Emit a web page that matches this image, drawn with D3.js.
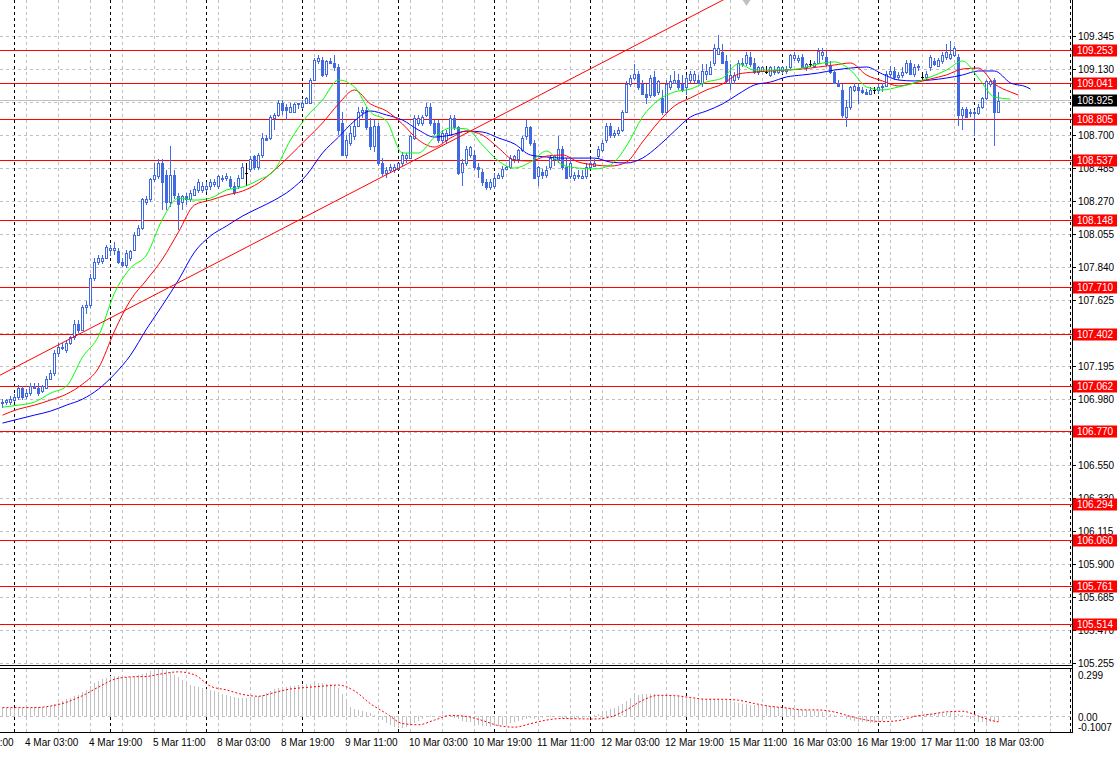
<!DOCTYPE html>
<html><head><meta charset="utf-8">
<script src="https://cdn.jsdelivr.net/npm/d3@7"></script>
<style>html,body{margin:0;padding:0;background:#fff;overflow:hidden}svg{display:block;font-family:"Liberation Sans",Arial,sans-serif}</style>
</head><body><svg id="c" width="1120" height="758"></svg>
<script>
// ---------- DATA (USDJPY H1, 3 Mar 21:00 .. 18 Mar 06:00) ----------
const opens=[
106.95,106.96,106.96,106.97,106.99,107.05,107.00,107.02,107.06,107.05,
107.03,107.05,107.11,107.15,107.28,107.32,107.30,107.34,107.38,107.47,
107.43,107.58,107.59,107.77,107.87,107.88,107.90,107.95,107.95,107.94,
107.87,107.85,107.90,107.95,108.05,108.09,108.26,108.28,108.41,108.43,
108.52,108.44,108.26,108.44,108.30,108.26,108.30,108.28,108.31,108.34,
108.34,108.35,108.37,108.38,108.37,108.42,108.42,108.41,108.37,108.37,
108.42,108.45,108.48,108.56,108.49,108.57,108.68,108.68,108.81,108.83,
108.91,108.88,108.85,108.85,108.90,108.88,108.91,108.91,109.06,109.18,
109.19,109.10,109.18,109.17,109.14,108.78,108.57,108.65,108.69,108.76,
108.85,108.86,108.75,108.63,108.76,108.52,108.45,108.47,108.47,108.48,
108.52,108.55,108.55,108.68,108.78,108.78,108.83,108.88,108.78,108.78,
108.67,108.67,108.70,108.81,108.75,108.46,108.52,108.57,108.57,108.49,
108.46,108.39,108.36,108.37,108.42,108.43,108.48,108.49,108.54,108.54,
108.60,108.69,108.75,108.65,108.43,108.46,108.44,108.49,108.54,108.54,
108.61,108.49,108.43,108.42,108.43,108.42,108.43,108.49,108.50,108.56,
108.60,108.67,108.76,108.70,108.71,108.73,108.85,109.03,109.07,109.10,
109.03,108.97,108.96,109.08,108.98,108.94,108.85,109.01,109.04,109.06,
109.03,109.01,109.06,109.06,109.06,109.04,109.10,109.10,109.17,109.23,
109.24,109.18,109.04,109.06,109.08,109.17,109.17,109.21,109.17,109.11,
109.12,109.11,109.09,109.12,109.11,109.12,109.12,109.14,109.20,109.19,
109.21,109.14,109.16,109.15,109.17,109.22,109.21,109.15,109.11,109.04,
108.99,108.82,108.88,108.99,109.01,108.99,108.98,108.97,108.99,108.99,
109.01,109.02,109.10,109.12,109.08,109.09,109.11,109.17,109.10,109.14,
109.08,109.08,109.14,109.18,109.15,109.18,109.21,109.20,109.22,109.21,
108.83,108.87,108.84,108.84,108.84,108.88,108.94,109.03,109.06,108.85];
const highs=[
106.98,106.98,107.00,107.01,107.07,107.06,107.04,107.08,107.08,107.08,
107.07,107.13,107.17,107.30,107.34,107.34,107.36,107.39,107.49,107.49,
107.59,107.62,107.79,107.90,107.92,107.92,107.98,107.98,108.00,107.96,
107.90,107.95,107.95,108.07,108.11,108.29,108.30,108.42,108.52,108.54,
108.54,108.47,108.63,108.47,108.32,108.31,108.32,108.34,108.37,108.41,
108.39,108.39,108.41,108.41,108.44,108.44,108.45,108.43,108.39,108.44,
108.52,108.52,108.56,108.57,108.58,108.71,108.70,108.83,108.84,108.93,
108.93,108.90,108.91,108.91,108.91,108.93,108.95,109.07,109.20,109.22,
109.21,109.19,109.20,109.22,109.16,108.85,108.70,108.76,108.80,108.88,
108.88,108.88,108.81,108.80,108.78,108.55,108.49,108.51,108.51,108.52,
108.59,108.58,108.70,108.83,108.83,108.83,108.91,108.91,108.80,108.80,
108.73,108.73,108.83,108.83,108.76,108.54,108.63,108.63,108.60,108.52,
108.48,108.41,108.41,108.45,108.45,108.50,108.50,108.57,108.57,108.61,
108.69,108.80,108.76,108.67,108.50,108.48,108.50,108.57,108.57,108.69,
108.63,108.55,108.54,108.46,108.47,108.47,108.52,108.54,108.54,108.63,
108.67,108.78,108.78,108.73,108.75,108.86,109.05,109.09,109.16,109.12,
109.06,109.03,109.09,109.12,109.06,108.99,109.06,109.09,109.12,109.10,
109.09,109.09,109.12,109.12,109.09,109.16,109.16,109.18,109.29,109.35,
109.29,109.22,109.16,109.11,109.19,109.20,109.24,109.24,109.20,109.15,
109.15,109.15,109.15,109.15,109.15,109.15,109.15,109.23,109.24,109.22,
109.23,109.17,109.19,109.18,109.27,109.27,109.25,109.18,109.12,109.06,
109.03,108.93,109.02,109.04,109.03,109.01,109.00,109.01,109.01,109.03,
109.04,109.12,109.15,109.14,109.11,109.14,109.19,109.19,109.16,109.16,
109.11,109.12,109.22,109.20,109.20,109.24,109.29,109.31,109.28,109.23,
108.88,108.88,108.87,108.86,108.90,108.95,109.06,109.06,109.07,108.98];
const lows=[
106.92,106.94,106.94,106.96,106.97,106.97,106.98,107.00,107.04,107.00,
107.02,107.04,107.10,107.13,107.25,107.30,107.28,107.33,107.36,107.41,
107.42,107.53,107.57,107.75,107.85,107.86,107.89,107.91,107.92,107.86,
107.84,107.83,107.88,107.94,108.04,108.08,108.24,108.26,108.39,108.41,
108.21,108.21,108.23,108.28,108.08,108.21,108.24,108.26,108.30,108.32,
108.32,108.33,108.34,108.36,108.35,108.39,108.40,108.35,108.31,108.35,
108.41,108.37,108.46,108.47,108.47,108.55,108.66,108.67,108.73,108.82,
108.83,108.80,108.84,108.84,108.87,108.87,108.90,108.90,109.05,109.16,
109.08,109.08,109.16,109.12,108.70,108.56,108.55,108.63,108.67,108.75,
108.81,108.73,108.60,108.59,108.50,108.43,108.42,108.45,108.45,108.47,
108.50,108.52,108.54,108.67,108.76,108.76,108.82,108.76,108.70,108.65,
108.65,108.65,108.69,108.73,108.44,108.37,108.50,108.55,108.47,108.42,
108.37,108.34,108.34,108.35,108.41,108.41,108.47,108.48,108.52,108.52,
108.59,108.67,108.63,108.41,108.37,108.41,108.42,108.47,108.50,108.52,
108.47,108.41,108.41,108.40,108.41,108.41,108.41,108.48,108.49,108.54,
108.59,108.65,108.68,108.68,108.69,108.72,108.84,109.01,109.06,108.99,
108.96,108.90,108.94,108.95,108.96,108.83,108.84,108.99,109.03,108.99,
108.98,108.96,109.04,109.04,109.03,109.01,109.06,109.09,109.15,109.22,
109.16,109.03,108.99,109.03,109.06,109.14,109.15,109.14,109.10,109.09,
109.11,109.10,109.08,109.09,109.10,109.10,109.10,109.13,109.18,109.17,
109.14,109.12,109.14,109.14,109.16,109.19,109.15,109.10,109.03,109.01,
108.81,108.75,108.86,108.98,108.90,108.97,108.96,108.96,108.97,108.97,
108.98,109.01,109.08,109.06,109.06,109.07,109.10,109.10,109.08,109.12,
109.06,109.06,109.12,109.15,109.14,109.16,109.19,109.19,109.21,108.76,
108.73,108.81,108.82,108.69,108.83,108.87,108.93,109.01,108.63,108.84];
const closes=[
106.96,106.97,106.98,106.99,107.05,106.99,107.02,107.06,107.05,107.02,
107.06,107.11,107.15,107.28,107.32,107.31,107.34,107.38,107.47,107.43,
107.58,107.59,107.77,107.87,107.90,107.90,107.97,107.96,107.96,107.87,
107.85,107.93,107.94,108.05,108.09,108.28,108.28,108.41,108.44,108.52,
108.39,108.26,108.44,108.31,108.25,108.30,108.28,108.32,108.35,108.39,
108.37,108.37,108.39,108.39,108.43,108.41,108.43,108.37,108.33,108.42,
108.49,108.45,108.54,108.49,108.57,108.68,108.67,108.82,108.83,108.91,
108.86,108.86,108.88,108.90,108.91,108.91,108.94,109.06,109.19,109.20,
109.09,109.18,109.17,109.14,108.73,108.57,108.67,108.71,108.76,108.85,
108.86,108.75,108.63,108.76,108.52,108.45,108.47,108.49,108.49,108.52,
108.57,108.57,108.69,108.81,108.81,108.82,108.88,108.78,108.71,108.67,
108.71,108.71,108.81,108.75,108.45,108.52,108.61,108.62,108.49,108.48,
108.39,108.36,108.39,108.42,108.44,108.48,108.49,108.55,108.56,108.60,
108.68,108.75,108.65,108.42,108.49,108.44,108.47,108.55,108.56,108.61,
108.49,108.42,108.52,108.44,108.44,108.43,108.49,108.52,108.52,108.61,
108.65,108.76,108.70,108.71,108.73,108.85,109.03,109.07,109.10,109.01,
108.97,108.95,109.07,108.96,109.05,108.85,109.03,109.05,109.06,109.01,
108.99,109.07,109.10,109.10,109.04,109.12,109.12,109.14,109.27,109.27,
109.17,109.05,109.09,109.09,109.17,109.16,109.22,109.16,109.11,109.14,
109.14,109.11,109.14,109.11,109.14,109.14,109.13,109.22,109.22,109.20,
109.14,109.16,109.16,109.17,109.25,109.24,109.16,109.11,109.04,109.02,
108.83,108.88,109.01,109.02,108.99,108.98,108.97,108.99,108.99,109.01,
109.02,109.10,109.12,109.08,109.09,109.11,109.17,109.10,109.14,109.15,
109.08,109.10,109.21,109.16,109.19,109.22,109.24,109.23,109.27,108.83,
108.87,108.82,108.85,108.85,108.88,108.94,109.05,109.05,108.85,108.92];

// Alligator lines [bar index, price] (already shifted forward)
const jaw=[[0,106.821],[4,106.847],[8,106.873],[12,106.899],[16,106.938],[20,106.977],[24,107.043],[28,107.140],[32,107.264],[36,107.434],
[40,107.590],[44,107.754],[48,107.936],[52,108.041],[56,108.106],[60,108.171],[64,108.223],[68,108.275],[72,108.341],[76,108.438],
[80,108.582],[84,108.686],[88,108.791],[92,108.856],[96,108.830],[100,108.797],[104,108.732],[108,108.686],[112,108.699],[116,108.725],
[120,108.719],[124,108.680],[128,108.641],[132,108.569],[136,108.556],[140,108.549],[144,108.549],[148,108.549],[152,108.523],[156,108.517],
[160,108.549],[164,108.628],[168,108.725],[172,108.817],[176,108.856],[180,108.902],[184,108.967],[188,109.026],[192,109.045],[196,109.078],
[200,109.091],[204,109.104],[208,109.123],[212,109.136],[216,109.143],[220,109.097],[224,109.058],[228,109.052],[232,109.058],[236,109.071],
[240,109.091],[244,109.117],[248,109.117],[252,109.039],[256,109.013],[257,108.999]];
const teeth=[[0,106.873],[4,106.912],[8,106.938],[12,106.971],[16,107.010],[20,107.075],[24,107.180],[28,107.421],[32,107.623],[36,107.754],
[40,107.891],[44,108.067],[48,108.243],[52,108.275],[56,108.308],[60,108.334],[64,108.386],[68,108.471],[72,108.569],[76,108.673],
[80,108.778],[84,108.902],[88,108.993],[92,108.902],[96,108.856],[100,108.771],[104,108.667],[108,108.621],[112,108.680],[116,108.725],
[120,108.699],[124,108.615],[128,108.536],[132,108.530],[136,108.562],[140,108.569],[144,108.523],[148,108.504],[152,108.497],[156,108.523],
[160,108.654],[164,108.784],[168,108.889],[172,108.941],[176,108.993],[180,109.032],[184,109.097],[188,109.110],[192,109.117],[196,109.123],
[200,109.130],[204,109.143],[208,109.156],[212,109.169],[216,109.091],[220,109.052],[224,109.019],[228,109.039],[232,109.065],[236,109.091],
[240,109.130],[244,109.136],[248,109.032],[252,108.980],[254,108.960]];
const lips=[[0,106.925],[4,106.938],[8,106.958],[12,107.016],[16,107.062],[20,107.251],[24,107.388],[28,107.669],[32,107.832],[36,107.917],
[40,108.151],[44,108.288],[48,108.275],[52,108.288],[56,108.341],[60,108.360],[64,108.406],[68,108.471],[72,108.667],[76,108.817],
[80,108.928],[84,109.058],[88,109.013],[92,108.849],[96,108.791],[100,108.582],[104,108.582],[108,108.686],[112,108.745],[116,108.739],
[120,108.634],[124,108.530],[128,108.484],[132,108.523],[136,108.595],[140,108.504],[144,108.484],[148,108.478],[152,108.504],[156,108.628],
[160,108.817],[164,108.928],[168,108.980],[172,108.999],[176,109.045],[180,109.071],[184,109.163],[188,109.123],[192,109.123],[196,109.123],
[200,109.136],[204,109.163],[208,109.176],[212,109.123],[216,109.013],[220,108.993],[224,109.013],[228,109.039],[232,109.078],[236,109.123],
[240,109.182],[244,109.071],[248,108.947],[252,108.934]];

// MACD histogram (one value per bar) and signal line [bar, value]
const macdMain=[
0.052,0.053,0.054,0.054,0.053,0.054,0.055,0.054,0.055,0.056,
0.057,0.060,0.066,0.074,0.085,0.097,0.108,0.118,0.127,0.136,
0.150,0.163,0.190,0.212,0.226,0.237,0.245,0.252,0.257,0.256,
0.252,0.250,0.250,0.253,0.258,0.268,0.276,0.285,0.294,0.299,
0.297,0.290,0.280,0.262,0.246,0.228,0.208,0.196,0.190,0.186,
0.180,0.172,0.166,0.161,0.152,0.143,0.134,0.127,0.121,0.118,
0.117,0.118,0.120,0.122,0.126,0.136,0.148,0.160,0.170,0.178,
0.184,0.187,0.189,0.191,0.195,0.198,0.201,0.205,0.209,0.210,
0.208,0.205,0.203,0.196,0.180,0.140,0.100,0.060,0.048,0.042,
0.035,0.028,0.018,0.008,-0.005,-0.025,-0.042,-0.055,-0.066,-0.075,
-0.078,-0.072,-0.060,-0.042,-0.030,-0.018,-0.008,-0.006,-0.002,0.002,
0.004,0.002,-0.004,-0.010,-0.020,-0.030,-0.036,-0.040,-0.048,-0.055,
-0.060,-0.064,-0.066,-0.065,-0.062,-0.058,-0.052,-0.046,-0.040,-0.032,
-0.024,-0.016,-0.014,-0.016,-0.014,-0.010,-0.008,-0.006,-0.006,-0.008,
-0.012,-0.016,-0.018,-0.016,-0.014,-0.012,-0.008,-0.004,0.004,0.014,
0.025,0.034,0.043,0.050,0.062,0.078,0.096,0.116,0.128,0.134,
0.138,0.140,0.140,0.139,0.137,0.134,0.133,0.131,0.129,0.126,
0.122,0.117,0.113,0.111,0.109,0.108,0.107,0.107,0.109,0.110,
0.107,0.102,0.096,0.090,0.084,0.078,0.074,0.073,0.072,0.071,
0.071,0.069,0.066,0.062,0.058,0.054,0.051,0.050,0.047,0.043,
0.040,0.037,0.035,0.034,0.032,0.028,0.022,0.016,0.010,0.002,
-0.008,-0.018,-0.026,-0.031,-0.035,-0.037,-0.039,-0.041,-0.041,-0.036,
-0.028,-0.020,-0.015,-0.011,-0.008,-0.006,-0.002,0.002,0.006,0.009,
0.010,0.012,0.015,0.017,0.019,0.021,0.023,0.024,0.022,0.016,
0.006,-0.006,-0.018,-0.028,-0.036,-0.040,-0.041,-0.040,-0.036,-0.030];
const macdSignal=[[0,0.054],[4,0.054],[8,0.054],[12,0.064],[16,0.088],[20,0.130],[24,0.184],[28,0.234],[32,0.249],[36,0.252],
[40,0.269],[44,0.281],[48,0.262],[52,0.190],[56,0.166],[60,0.138],[64,0.126],[68,0.150],[72,0.172],[76,0.182],
[80,0.190],[84,0.197],[88,0.160],[92,0.078],[96,0.016],[100,-0.047],[104,-0.055],[108,-0.025],[112,0.004],[116,-0.002],
[120,-0.028],[124,-0.060],[128,-0.070],[132,-0.048],[136,-0.025],[140,-0.015],[144,-0.017],[148,-0.018],[152,-0.005],[156,0.040],
[160,0.100],[164,0.132],[168,0.130],[172,0.118],[176,0.107],[180,0.107],[184,0.101],[188,0.080],[192,0.062],[196,0.052],
[200,0.040],[204,0.039],[208,0.026],[212,-0.002],[216,-0.025],[220,-0.035],[224,-0.028],[228,-0.002],[232,0.012],[236,0.027],
[240,0.031],[244,0.000],[248,-0.032],[249,-0.036]];

// Horizontal support/resistance levels, current price, trend line anchors
const levels=[109.253,109.041,108.805,108.537,108.148,107.710,107.402,107.062,106.770,106.294,106.060,105.761,105.514];
const currentPrice=108.925;
const trendAnchors=[[0,107.140],[179,109.563]];

// Axis ticks
const priceGrid=[109.345,109.130,108.915,108.700,108.485,108.270,108.055,107.840,107.625,107.410,107.195,106.980,106.765,106.550,106.335,106.115,105.900,105.685,105.470,105.255];
const priceTickLabels=["109.345","109.130","","108.700","108.485","108.270","108.055","107.840","107.625","","107.195","106.980","","106.550","106.330","106.115","105.900","105.685","105.470","105.255"];
const timeTickBars=[-10,6,22,38,54,70,86,102,118,134,150,166,182,198,214,230,246];
const timeTickLabels=["3 Mar 11:00","4 Mar 03:00","4 Mar 19:00","5 Mar 11:00","8 Mar 03:00","8 Mar 19:00","9 Mar 11:00","10 Mar 03:00","10 Mar 19:00","11 Mar 11:00","12 Mar 03:00","12 Mar 19:00","15 Mar 11:00","16 Mar 03:00","16 Mar 19:00","17 Mar 11:00","18 Mar 03:00"];
const daySeparatorBars=[3,27,51,75,99,123,147,171,195,219,243,267];
const macdAxis={max:0.299,min:-0.1007};

// ---------- LAYOUT ----------
const svg=d3.select("#c");
const plotRight=1072, mainTop=0, mainBottom=665, macdTop=669, macdBottom=732;
const x=d3.scaleLinear().domain([0,1]).range([2,6]);
const y=d3.scaleLinear().domain([105.2435,109.5798]).range([mainBottom,mainTop]);
const ym=d3.scaleLinear().domain([macdAxis.min,macdAxis.max]).range([macdBottom,macdTop]);
const BLUE="#4169e1", GRID="#c0c0c0";

const defs=svg.append("defs");
defs.append("clipPath").attr("id","mainClip").append("rect").attr("x",0).attr("y",mainTop).attr("width",plotRight).attr("height",mainBottom-mainTop);
defs.append("clipPath").attr("id","macdClip").append("rect").attr("x",0).attr("y",macdTop-1).attr("width",plotRight).attr("height",macdBottom-macdTop+2);

const main=svg.append("g").attr("clip-path","url(#mainClip)");
const macd=svg.append("g").attr("clip-path","url(#macdClip)");

// vertical grid (every 8 bars)
const vgrid=d3.range(6,268,8);
[main,macd].forEach((g,k)=>{
  g.selectAll(null).data(vgrid).enter().append("line")
   .attr("x1",d=>x(d)+0.5).attr("x2",d=>x(d)+0.5)
   .attr("y1",k?macdTop:mainTop).attr("y2",k?macdBottom:mainBottom)
   .attr("stroke",GRID).attr("stroke-dasharray","3,3");
});
// horizontal grid
main.selectAll(null).data(priceGrid).enter().append("line")
  .attr("x1",0).attr("x2",plotRight).attr("y1",d=>Math.round(y(d))+0.5).attr("y2",d=>Math.round(y(d))+0.5)
  .attr("stroke",GRID).attr("stroke-dasharray","3,3");
macd.append("line").attr("x1",0).attr("x2",plotRight).attr("y1",Math.round(ym(0))+0.5).attr("y2",Math.round(ym(0))+0.5)
  .attr("stroke",GRID).attr("stroke-dasharray","3,3");
// day separators
[main,macd].forEach((g,k)=>{
  g.selectAll(null).data(daySeparatorBars).enter().append("line")
   .attr("x1",d=>x(d)+0.5).attr("x2",d=>x(d)+0.5)
   .attr("y1",k?macdTop:mainTop).attr("y2",k?macdBottom:mainBottom)
   .attr("stroke","#000").attr("stroke-dasharray","3,3");
});

// current price line
main.append("line").attr("x1",0).attr("x2",plotRight)
  .attr("y1",Math.round(y(currentPrice))+0.5).attr("y2",Math.round(y(currentPrice))+0.5).attr("stroke",GRID);
// horizontal levels
main.selectAll(null).data(levels).enter().append("line")
  .attr("x1",0).attr("x2",plotRight).attr("y1",d=>Math.round(y(d))+0.5).attr("y2",d=>Math.round(y(d))+0.5)
  .attr("stroke","#ff0000");

// candles
const bars=d3.range(opens.length).map(i=>({i,o:opens[i],h:highs[i],l:lows[i],c:closes[i]}));
const cg=main.append("g").attr("shape-rendering","crispEdges");
bars.forEach(b=>{
  const xc=x(b.i), doji=b.o===b.c, col=doji?"#000":BLUE;
  cg.append("line").attr("x1",xc+0.5).attr("x2",xc+0.5).attr("y1",y(b.h)).attr("y2",y(b.l)).attr("stroke",col);
  if(doji){
    cg.append("line").attr("x1",xc-1).attr("x2",xc+2).attr("y1",Math.round(y(b.o))+0.5).attr("y2",Math.round(y(b.o))+0.5).attr("stroke","#000");
  } else if(b.c>b.o){
    const t=Math.round(y(b.c)), bt=Math.round(y(b.o));
    cg.append("rect").attr("x",xc-0.5).attr("y",t+0.5).attr("width",2).attr("height",Math.max(1,bt-t))
      .attr("fill","#fff").attr("stroke",BLUE);
  } else {
    const t=Math.round(y(b.o)), bt=Math.round(y(b.c));
    cg.append("rect").attr("x",xc-1).attr("y",t).attr("width",3).attr("height",Math.max(2,bt-t+1)).attr("fill",BLUE);
  }
});

// alligator
const lineGen=d3.line().x(d=>x(d[0])+0.5).y(d=>y(d[1])).curve(d3.curveMonotoneX);
main.append("path").attr("d",lineGen(jaw)).attr("fill","none").attr("stroke","#0000ff");
main.append("path").attr("d",lineGen(teeth)).attr("fill","none").attr("stroke","#ff0000");
main.append("path").attr("d",lineGen(lips)).attr("fill","none").attr("stroke","#00ff00");

// trend line (ray)
const [a0,a1]=trendAnchors, slope=(a1[1]-a0[1])/(a1[0]-a0[0]);
main.append("line").attr("x1",x(-1)).attr("y1",y(a0[1]+slope*(-1-a0[0])))
  .attr("x2",x(200)).attr("y2",y(a0[1]+slope*(200-a0[0]))).attr("stroke","#ff0000");

// shift marker
const sx=x(186)+0.5;
svg.append("path").attr("d",`M${sx-4},0L${sx+4},0L${sx},6Z`).attr("fill","#c0c0c0");

// MACD histogram + signal
macd.append("g").attr("shape-rendering","crispEdges").selectAll("line").data(macdMain).enter().append("line")
  .attr("x1",(d,i)=>x(i)+0.5).attr("x2",(d,i)=>x(i)+0.5)
  .attr("y1",ym(0)).attr("y2",d=>ym(d)).attr("stroke",GRID);
const sigGen=d3.line().x(d=>x(d[0])+0.5).y(d=>ym(d[1])).curve(d3.curveMonotoneX);
macd.append("path").attr("d",sigGen(macdSignal)).attr("fill","none").attr("stroke","#ff0000").attr("stroke-dasharray","2,2");

// frames
const fr=svg.append("g").attr("shape-rendering","crispEdges").attr("stroke","#000");
fr.append("line").attr("x1",0).attr("x2",plotRight).attr("y1",mainBottom+0.5).attr("y2",mainBottom+0.5);
fr.append("line").attr("x1",0).attr("x2",plotRight).attr("y1",macdTop-0.5).attr("y2",macdTop-0.5);
fr.append("line").attr("x1",0).attr("x2",plotRight).attr("y1",macdBottom+0.5).attr("y2",macdBottom+0.5);
fr.append("line").attr("x1",plotRight+0.5).attr("x2",plotRight+0.5).attr("y1",0).attr("y2",macdBottom+1);

// price axis ticks & labels
const ax=svg.append("g").attr("font-size","10px");
priceGrid.forEach((p,k)=>{
  const yy=Math.round(y(p))+0.5;
  if(!priceTickLabels[k]) return;
  ax.append("line").attr("x1",plotRight).attr("x2",plotRight+4).attr("y1",yy).attr("y2",yy).attr("stroke","#000");
  ax.append("text").attr("x",plotRight+6).attr("y",yy).attr("dy","0.35em").attr("fill","#000").text(priceTickLabels[k]);
});
// level labels (red) and current price (black)
levels.forEach(p=>{
  const yy=Math.round(y(p))+0.5;
  ax.append("rect").attr("x",plotRight+1).attr("y",yy-6).attr("width",44).attr("height",12).attr("fill","#ff0000");
  ax.append("text").attr("x",plotRight+5).attr("y",yy).attr("dy","0.35em").attr("fill","#fff").text(p.toFixed(3));
});
{
  const yy=Math.round(y(currentPrice))+0.5;
  ax.append("rect").attr("x",plotRight+1).attr("y",yy-6).attr("width",44).attr("height",12).attr("fill","#000");
  ax.append("text").attr("x",plotRight+5).attr("y",yy).attr("dy","0.35em").attr("fill","#fff").text(currentPrice.toFixed(3));
}
// macd axis labels
ax.append("text").attr("x",plotRight+6).attr("y",ym(macdAxis.max)+6).attr("dy","0.35em").text(macdAxis.max.toFixed(3));
ax.append("text").attr("x",plotRight+6).attr("y",ym(0)+1).attr("dy","0.35em").text("0.00");
ax.append("text").attr("x",plotRight+6).attr("y",ym(macdAxis.min)-5).attr("dy","0.35em").text(macdAxis.min.toFixed(4));

// time labels
timeTickBars.forEach((b,k)=>{
  ax.append("text").attr("x",x(b)-1).attr("y",746).attr("fill","#000").text(timeTickLabels[k]);
});
</script></body></html>
